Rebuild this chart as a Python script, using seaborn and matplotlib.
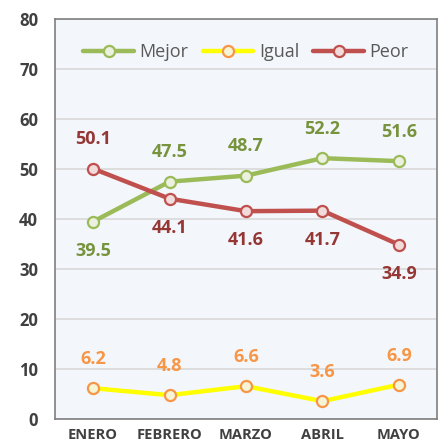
import matplotlib
matplotlib.use("Agg")
import matplotlib.pyplot as plt
import pandas as pd
import seaborn as sns

# ============================================================
# DATA
# ============================================================

MONTHS = ["ENERO", "FEBRERO", "MARZO", "ABRIL", "MAYO"]
MEJOR = [39.5, 47.5, 48.7, 52.2, 51.6]
IGUAL = [6.2, 4.8, 6.6, 3.6, 6.9]
PEOR = [50.1, 44.1, 41.6, 41.7, 34.9]

# label placement: +1 above the point, -1 below
MEJOR_POS = [-1, 1, 1, 1, 1]
IGUAL_POS = [1, 1, 1, 1, 1]
PEOR_POS = [1, -1, -1, -1, -1]

SERIES = {
    "Mejor": dict(values=MEJOR, pos=MEJOR_POS, line="#9BBB59", edge="#9BBB59",
                  face="#EBF1DE", text="#77933C"),
    "Igual": dict(values=IGUAL, pos=IGUAL_POS, line="#FFFF00", edge="#F79646",
                  face="#F5F5D5", text="#F79646"),
    "Peor": dict(values=PEOR, pos=PEOR_POS, line="#C0504D", edge="#C0504D",
                 face="#F2DCDB", text="#953735"),
}

rows = []
for name, s in SERIES.items():
    for i, (m, v) in enumerate(zip(MONTHS, s["values"])):
        rows.append({"mes": m, "x": i, "serie": name, "valor": v})
df = pd.DataFrame(rows)

# ============================================================
# PLOT
# ============================================================

sns.set_style("white")
plt.rcParams["font.family"] = ["Open Sans", "DejaVu Sans"]

fig = plt.figure(figsize=(4.42, 4.45), dpi=100)
ax = fig.add_axes([0.124, 0.058, 0.865, 0.899])
ax.set_facecolor("#F3F6FB")

for name, s in SERIES.items():
    sub = df[df.serie == name]
    sns.lineplot(data=sub, x="x", y="valor", ax=ax, color=s["line"], lw=3.2,
                 marker="o", markersize=8, markerfacecolor=s["face"],
                 markeredgecolor=s["edge"], markeredgewidth=1.6, label=name,
                 zorder=3)
    for xi, v, p in zip(sub.x, sub.valor, s["pos"]):
        ax.annotate(f"{v:.1f}", (xi, v), xytext=(0, 21 * p), textcoords="offset points",
                    ha="center", va="center", fontsize=13, fontweight="bold",
                    color=s["text"])

ax.set_xlim(-0.5, len(MONTHS) - 0.5)
ax.set_ylim(0, 80)
ax.set_yticks(range(0, 81, 10))
ax.set_xticks(range(len(MONTHS)))
ax.set_xticklabels(MONTHS, fontsize=10.5, fontweight="bold", color="#404040",
                   family=["Liberation Sans Narrow", "Open Sans", "DejaVu Sans"])
ax.tick_params(axis="y", labelsize=12, labelcolor="#404040", length=0, pad=12)
ax.tick_params(axis="x", length=0, pad=6)
for lab in ax.get_yticklabels():
    lab.set_fontweight("bold")
ax.set_xlabel("")
ax.set_ylabel("")
ax.grid(axis="y", color="#D9D9D9", lw=1.2)
ax.set_axisbelow(True)
for sp in ax.spines.values():
    sp.set_color("#7F7F7F")
    sp.set_linewidth(1.2)

leg = ax.legend(loc="upper center", bbox_to_anchor=(0.5, 0.98), ncol=3, frameon=False,
                fontsize=13, handlelength=2.8, columnspacing=0.8, handletextpad=0.3)
for t in leg.get_texts():
    t.set_color("#595959")

fig.savefig("out.png", dpi=100)
